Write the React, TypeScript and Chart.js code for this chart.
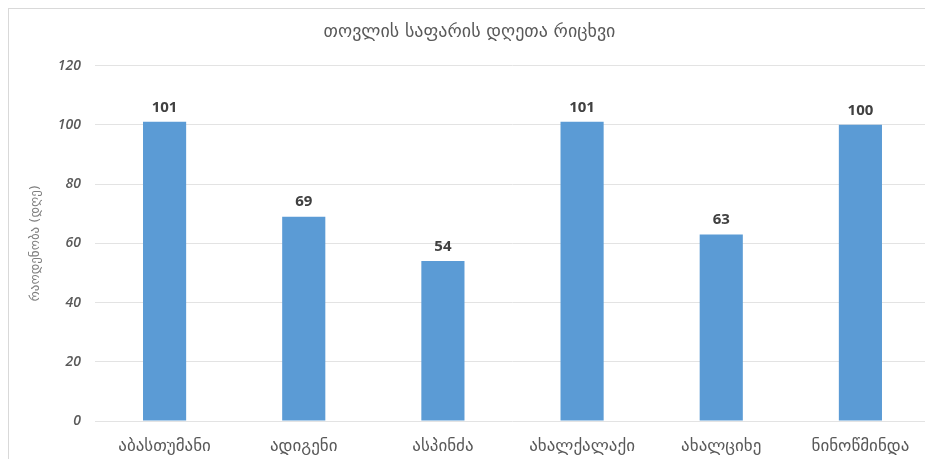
import React, { useEffect, useRef } from "react";
import { Chart, registerables } from "chart.js";

Chart.register(...registerables);

// Snow-cover days per station (Samtskhe-Javakheti)
const stations = ["აბასთუმანი", "ადიგენი", "ასპინძა", "ახალქალაქი", "ახალციხე", "ნინოწმინდა"];
const snowDays = [101, 69, 54, 101, 63, 100];
const chartTitle = "თოვლის საფარის დღეთა რიცხვი";
const yAxisTitle = "რაოდენობა (დღე)";
const yMin = 0;
const yMax = 120;
const yStep = 20;

const GEO_FONT = "'DejaVu Sans', 'Noto Sans', sans-serif";

const valueLabels = {
  id: "valueLabels",
  afterDatasetsDraw(chart: any) {
    const { ctx } = chart;
    const meta = chart.getDatasetMeta(0);
    ctx.save();
    ctx.font = "bold 15px 'Open Sans', 'Liberation Sans', sans-serif";
    ctx.fillStyle = "#404040";
    ctx.textAlign = "center";
    ctx.textBaseline = "bottom";
    meta.data.forEach((bar: any, i: number) => {
      const v = chart.data.datasets[0].data[i];
      ctx.fillText(String(v), bar.x, bar.y - 7);
    });
    ctx.restore();
  },
};

export default function App() {
  const canvasRef = useRef<HTMLCanvasElement | null>(null);

  useEffect(() => {
    document.documentElement.style.overflow = "hidden";
    const canvas = canvasRef.current;
    if (!canvas) return;
    const chart = new Chart(canvas, {
      type: "bar",
      data: {
        labels: stations,
        datasets: [
          {
            data: snowDays,
            backgroundColor: "#5b9bd5",
            borderWidth: 0,
            barPercentage: 0.31,
            categoryPercentage: 1,
          },
        ],
      },
      options: {
        responsive: false,
        animation: false,
        layout: { padding: { left: 0, right: 3, top: 0, bottom: 0 } },
        plugins: {
          legend: { display: false },
          tooltip: { enabled: false },
          title: {
            display: true,
            text: chartTitle,
            color: "#595959",
            font: { family: GEO_FONT, size: 18, weight: "normal" },
            padding: { top: 13, bottom: 22 },
          },
        },
        scales: {
          x: {
            grid: { display: false, drawTicks: false },
            border: { display: false },
            ticks: {
              color: "#595959",
              font: { family: GEO_FONT, size: 17 },
              padding: 15,
              maxRotation: 0,
              autoSkip: false,
            },
            afterFit: (s: any) => {
              s.height = 38;
            },
          },
          y: {
            min: yMin,
            max: yMax,
            grid: { color: "#e3e3e3", lineWidth: 1, drawTicks: false },
            border: { display: false },
            ticks: {
              stepSize: yStep,
              color: "#595959",
              font: { family: "'Open Sans', sans-serif", size: 14, style: "italic", weight: "600" },
              padding: 14,
            },
            title: {
              display: true,
              text: yAxisTitle,
              color: "#7f7f7f",
              font: { family: GEO_FONT, size: 13 },
              padding: { top: 19, bottom: 0 },
            },
            afterFit: (s: any) => {
              s.width = 86;
            },
          },
        },
      },
      plugins: [valueLabels],
    });
    return () => chart.destroy();
  }, []);

  return (
    <div
      style={{
        width: 924,
        height: 450,
        borderTop: "1px solid #d9d9d9",
        borderLeft: "1px solid #d9d9d9",
        background: "#ffffff",
      }}
    >
      <canvas ref={canvasRef} width={924} height={450} style={{ display: "block" }} />
    </div>
  );
}
